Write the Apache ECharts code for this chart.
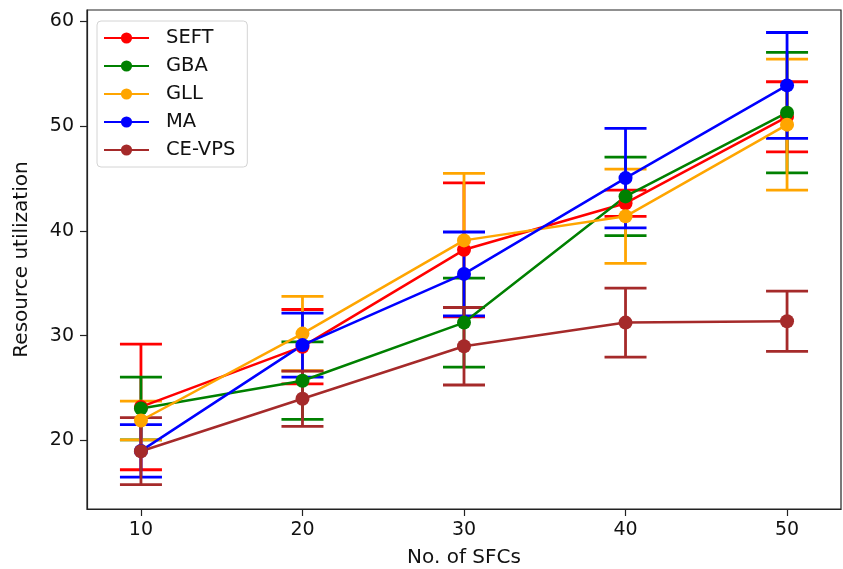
<!DOCTYPE html>
<html>
<head>
<meta charset="utf-8">
<script src="https://cdn.jsdelivr.net/npm/echarts@6/dist/echarts.min.js"></script>
<style>
  html, body { margin: 0; padding: 0; background: #fff; }
  #chart { width: 843px; height: 569px; }
</style>
</head>
<body>
<div id="chart"></div>
<script>
var sfcs = [10, 20, 30, 40, 50];
var yTicks = [20, 30, 40, 50, 60];

var seft = [23.2, 28.95, 38.2, 42.65, 50.9];
var seftErr = [6.0, 3.55, 6.4, 1.25, 3.35];
var gba = [23.05, 25.7, 31.25, 43.3, 51.3];
var gbaErr = [3.0, 3.7, 4.25, 3.75, 5.75];
var gll = [21.9, 30.2, 39.1, 41.4, 50.15];
var gllErr = [1.85, 3.55, 6.4, 4.5, 6.25];
var ma = [19.0, 29.1, 35.9, 45.05, 53.9];
var maErr = [2.5, 3.05, 4.0, 4.75, 5.05];
var cevps = [18.97, 23.98, 28.99, 31.25, 31.38];
var cevpsErr = [3.2, 2.64, 3.7, 3.3, 2.88];

var names = ['SEFT', 'GBA', 'GLL', 'MA', 'CE-VPS'];
var colors = ['#ff0000', '#008000', '#ffa500', '#0000ff', '#a52a2a'];
var means = [seft, gba, gll, ma, cevps];
var errs = [seftErr, gbaErr, gllErr, maErr, cevpsErr];

function errorBars(color) {
    return function (params, api) {
        var x = api.value(0), y = api.value(1), e = api.value(2);
        var hi = api.coord([x, y + e]);
        var lo = api.coord([x, y - e]);
        var hw = 21;
        var st = { stroke: color, lineWidth: 2.8 };
        return {
            type: 'group',
            children: [
                { type: 'line', shape: { x1: hi[0], y1: hi[1], x2: lo[0], y2: lo[1] }, style: st },
                { type: 'line', shape: { x1: hi[0] - hw, y1: hi[1], x2: hi[0] + hw, y2: hi[1] }, style: st },
                { type: 'line', shape: { x1: lo[0] - hw, y1: lo[1], x2: lo[0] + hw, y2: lo[1] }, style: st }
            ]
        };
    };
}

var series = [];
names.forEach(function (n, i) {
    series.push({
        name: n + ' err',
        type: 'custom',
        renderItem: errorBars(colors[i]),
        data: sfcs.map(function (x, j) { return [x, means[i][j], errs[i][j]]; }),
        silent: true
    });
    series.push({
        name: n,
        type: 'line',
        data: sfcs.map(function (x, j) { return [x, means[i][j]]; }),
        symbol: 'circle',
        symbolSize: 14,
        color: colors[i],
        lineStyle: { width: 2.5, color: colors[i] },
        itemStyle: { color: colors[i] },
        animation: false
    });
});

var chart = echarts.init(document.getElementById('chart'));
chart.setOption({
    animation: false,
    backgroundColor: '#fff',
    textStyle: { fontFamily: 'DejaVu Sans' },
    grid: {
        left: 87, right: 2, top: 10, bottom: 60,
        outerBoundsMode: 'none',
        show: true, borderColor: '#222', borderWidth: 1.2
    },
    legend: {
        data: names,
        orient: 'vertical',
        left: 97,
        top: 21,
        padding: [7, 12, 7, 6],
        itemWidth: 45,
        itemHeight: 14,
        itemGap: 8,
        borderColor: '#d4d4d4',
        borderWidth: 1,
        borderRadius: 4,
        backgroundColor: 'rgba(255,255,255,0.85)',
        textStyle: { fontSize: 19.5, color: '#111', lineHeight: 18, padding: [0, 0, 0, 12], fontFamily: 'DejaVu Sans' }
    },
    xAxis: {
        type: 'value',
        min: 6.66,
        max: 53.34,
        name: 'No. of SFCs',
        nameLocation: 'middle',
        nameGap: 39,
        nameTextStyle: { fontSize: 20, color: '#111' },
        splitLine: { show: false },
        axisLine: { show: true, lineStyle: { color: '#222', width: 1.2 } },
        axisTick: { show: true, length: 7, lineStyle: { color: '#222', width: 1.2 }, customValues: sfcs },
        axisLabel: { fontSize: 19, color: '#111', margin: 12, customValues: sfcs }
    },
    yAxis: {
        type: 'value',
        min: 13.45,
        max: 61.1,
        name: 'Resource utilization',
        nameLocation: 'middle',
        nameRotate: 90,
        nameGap: 55,
        nameTextStyle: { fontSize: 20, color: '#111' },
        splitLine: { show: false },
        axisLine: { show: true, lineStyle: { color: '#222', width: 1.2 } },
        axisTick: { show: true, length: 7, lineStyle: { color: '#222', width: 1.2 }, customValues: yTicks },
        axisLabel: { fontSize: 19, color: '#111', margin: 13, customValues: yTicks }
    },
    series: series
});
</script>
</body>
</html>
